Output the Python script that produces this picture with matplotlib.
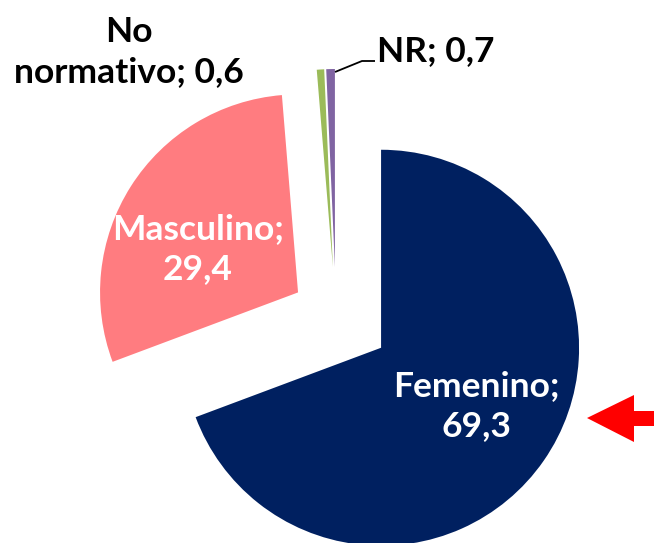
#!/usr/bin/env python

import matplotlib
matplotlib.use('Agg')
import matplotlib.pyplot as plt
from matplotlib.patches import Polygon

# data
categories = ['Femenino', 'Masculino', 'No normativo', 'NR']
values = [69.3, 29.4, 0.6, 0.7]
value_labels = ['69,3', '29,4', '0,6', '0,7']
colors = ['#002060', '#FF7C80', '#9BBB59', '#8064A2']
explode = [0.277, 0.227, 0.25, 0.25]


def main():
    plt.rcParams['font.family'] = ['Lato', 'DejaVu Sans']

    fig = plt.figure(figsize=(6.54, 5.43), dpi=100)
    ax = fig.add_axes([0, 0, 1, 1])

    radius = 198
    # pie in pixel-like coordinates (y up); explode is absolute in matplotlib
    ax.pie(values, colors=colors, explode=[e * radius for e in explode],
           startangle=90, counterclock=False,
           center=(336, 543 - 316.5), radius=radius,
           wedgeprops={'linewidth': 0}, frame=True)
    ax.set_xlim(0, 654)
    ax.set_ylim(0, 543)
    ax.set_aspect('equal')
    ax.axis('off')

    fs = 25.5
    ls = 1.33
    # labels
    ax.text(476, 543 - 406, f'{categories[0]};\n{value_labels[0]}',
            ha='center', va='center', color='white', fontsize=fs,
            fontweight='bold', linespacing=ls, zorder=5)
    ax.text(198, 543 - 249, f'{categories[1]};\n{value_labels[1]}',
            ha='center', va='center', color='white', fontsize=fs,
            fontweight='bold', linespacing=ls, zorder=5)
    ax.text(129, 543 - 52, f'No\nnormativo; {value_labels[2]}',
            ha='center', va='center', color='black', fontsize=fs,
            fontweight='bold', linespacing=ls, zorder=5)
    ax.text(377, 543 - 51, f'{categories[3]}; {value_labels[3]}',
            ha='left', va='center', color='black', fontsize=fs,
            fontweight='bold', zorder=5)

    # leader line for NR
    ax.plot([335, 362, 375], [543 - 72, 543 - 61, 543 - 61],
            color='black', lw=1.3, solid_capstyle='butt', zorder=5)

    # red arrow
    arrow = Polygon([(587, 543 - 418), (634, 543 - 395), (634, 543 - 411),
                     (654, 543 - 411), (654, 543 - 426), (634, 543 - 426),
                     (634, 543 - 442)], closed=True, facecolor='#FF0000',
                    edgecolor='none', zorder=5)
    ax.add_patch(arrow)

    fig.savefig('out.png', dpi=100)


if __name__ == '__main__':
    main()
